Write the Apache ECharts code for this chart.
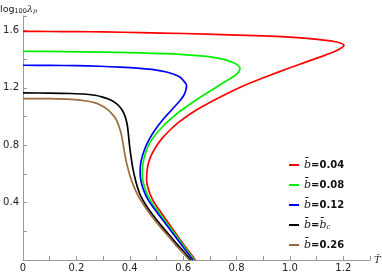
<!DOCTYPE html>
<html>
<head>
<meta charset="utf-8">
<script src="https://cdn.jsdelivr.net/npm/echarts@6/dist/echarts.min.js"></script>
<style>html,body{margin:0;padding:0;background:#fff}#c{width:382px;height:273px}</style>
</head>
<body>
<div id="c"></div>
<script>
// b-bar values shown in the legend
const bLabels = ['0.04', '0.08', '0.12', 'c', '0.26'];
const colors = ['#ff0000', '#00f000', '#0000ff', '#000000', '#9c6b3c'];

// red: b = 0.04
const redT = [0, 0.1, 0.2, 0.3, 0.44, 0.6, 0.775, 0.9, 1.0, 1.1125, 1.1751, 1.2025, 1.1894, 1.1612, 1.1200, 1.0562, 0.9925, 0.9250, 0.8575, 0.7900, 0.7300, 0.6738, 0.6251, 0.5838, 0.5501, 0.5219, 0.4994, 0.4826, 0.4713, 0.4649, 0.4631, 0.4706, 0.4863, 0.5107, 0.5369, 0.5632, 0.5894, 0.6176, 0.6457];
const redL = [1.593, 1.592, 1.591, 1.589, 1.584, 1.578, 1.569, 1.561, 1.553, 1.535, 1.519, 1.496, 1.473, 1.447, 1.419, 1.377, 1.334, 1.287, 1.238, 1.183, 1.127, 1.071, 1.016, 0.960, 0.904, 0.849, 0.793, 0.737, 0.682, 0.626, 0.557, 0.487, 0.417, 0.348, 0.278, 0.209, 0.139, 0.070, 0];
// green: b = 0.08
const greenT = [0, 0.15, 0.2876, 0.4376, 0.5876, 0.6877, 0.7338, 0.7657, 0.7938, 0.8088, 0.8125, 0.8099, 0.7957, 0.7657, 0.7252, 0.6757, 0.6374, 0.5932, 0.5624, 0.5276, 0.5002, 0.4788, 0.4627, 0.4518, 0.4469, 0.4488, 0.4593, 0.4769, 0.5024, 0.5298, 0.5576, 0.5857, 0.6138, 0.6412];
const greenL = [1.454, 1.452, 1.449, 1.443, 1.433, 1.419, 1.405, 1.391, 1.370, 1.350, 1.334, 1.315, 1.287, 1.252, 1.206, 1.148, 1.101, 1.043, 0.997, 0.939, 0.881, 0.828, 0.765, 0.696, 0.626, 0.557, 0.487, 0.417, 0.348, 0.278, 0.209, 0.139, 0.070, 0];
// blue: b = 0.12
const blueT = [0, 0.1, 0.2, 0.2876, 0.3625, 0.4376, 0.4938, 0.5377, 0.5650, 0.5876, 0.6000, 0.6127, 0.6100, 0.6026, 0.5894, 0.5726, 0.5557, 0.5388, 0.5219, 0.4938, 0.4713, 0.4544, 0.4432, 0.4387, 0.4413, 0.4518, 0.4694, 0.4957, 0.5238, 0.5519, 0.5801, 0.6082, 0.6363];
const blueL = [1.357, 1.356, 1.354, 1.350, 1.344, 1.335, 1.325, 1.310, 1.294, 1.275, 1.252, 1.217, 1.183, 1.148, 1.113, 1.078, 1.043, 1.009, 0.974, 0.904, 0.835, 0.765, 0.696, 0.626, 0.557, 0.487, 0.417, 0.348, 0.278, 0.209, 0.139, 0.070, 0];
// black: b = b_c
const blackT = [0, 0.1, 0.18, 0.2377, 0.27, 0.295, 0.3176, 0.3401, 0.3570, 0.3720, 0.3832, 0.3907, 0.3952, 0.3990, 0.4038, 0.4094, 0.4170, 0.4263, 0.4394, 0.4601, 0.4863, 0.5163, 0.5482, 0.5801, 0.5969, 0.6288];
const blackL = [1.164, 1.163, 1.160, 1.155, 1.148, 1.137, 1.123, 1.103, 1.078, 1.043, 0.997, 0.939, 0.870, 0.800, 0.730, 0.661, 0.591, 0.522, 0.452, 0.383, 0.313, 0.243, 0.174, 0.104, 0.070, 0];
// brown: b = 0.26
const brownT = [0, 0.1, 0.18, 0.2377, 0.262, 0.2801, 0.3127, 0.3345, 0.3502, 0.3607, 0.3690, 0.3757, 0.3821, 0.3900, 0.4001, 0.4132, 0.4301, 0.4526, 0.4788, 0.5088, 0.5407, 0.5726, 0.5894, 0.6232];
const brownL = [1.125, 1.124, 1.119, 1.108, 1.099, 1.089, 1.055, 1.016, 0.974, 0.925, 0.870, 0.800, 0.730, 0.661, 0.591, 0.522, 0.452, 0.383, 0.313, 0.243, 0.174, 0.104, 0.070, 0];

const seriesT = [redT, greenT, blueT, blackT, brownT];
const seriesL = [redL, greenL, blueL, blackL, brownL];

const names = bLabels.map(v => v === 'c' ? 'b̄=b̄c' : 'b̄=' + v);

const chart = echarts.init(document.getElementById('c'));
chart.setOption({
  animation: false,
  backgroundColor: '#fff',
  grid: { left: 23, right: 12, top: 16, bottom: 13, containLabel: false, outerBoundsMode: 'none' },
  legend: {
    orient: 'vertical',
    left: 284,
    top: 153,
    itemWidth: 10,
    itemHeight: 2,
    itemGap: 6,
    icon: 'rect',
    data: names,
    formatter: function (name) {
      const v = name.split('=')[1];
      if (v === 'b̄c') return '{i|b̄}{n|=}{i|b̄}{s|c}';
      return '{i|b̄}{n|=' + v + '}';
    },
    textStyle: {
      lineHeight: 14,
      rich: {
        i: { fontFamily: 'DejaVu Serif', fontStyle: 'italic', fontSize: 11, color: '#222', lineHeight: 14 },
        n: { fontFamily: 'DejaVu Sans', fontWeight: 'bold', fontSize: 10, color: '#111', lineHeight: 14 },
        s: { fontFamily: 'DejaVu Serif', fontStyle: 'italic', fontSize: 7, color: '#222', padding: [5, 0, 0, 0], lineHeight: 14 }
      }
    }
  },
  xAxis: {
    type: 'value', min: 0, max: 1.3, interval: 0.1,
    splitLine: { show: false },
    axisLine: { onZero: false, lineStyle: { color: '#999', width: 1 } },
    axisTick: { inside: true, length: 4, lineStyle: { color: '#999' } },
    axisLabel: {
      margin: 3, fontFamily: 'DejaVu Sans', fontSize: 10, color: '#222',
      formatter: function (v) {
        const k = Math.round(v * 10);
        if (k % 2) return '';
        return k === 0 ? '0' : (k / 10).toFixed(1);
      }
    },
    name: 'T̄',
    nameGap: 4,
    nameTextStyle: { fontFamily: 'DejaVu Serif', fontStyle: 'italic', fontSize: 10, color: '#222', padding: [0, 0, 3, 0] }
  },
  yAxis: {
    type: 'value', min: 0, max: 1.7, interval: 0.2,
    splitLine: { show: false },
    axisLine: { onZero: false, lineStyle: { color: '#999', width: 1 } },
    axisTick: { inside: true, length: 4, lineStyle: { color: '#999' } },
    axisLabel: {
      margin: 4, fontFamily: 'DejaVu Sans', fontSize: 10, color: '#222',
      formatter: function (v) {
        const k = Math.round(v * 10);
        if (k === 0 || k % 4) return '';
        return (k / 10).toFixed(1);
      }
    },
    name: '{a|log}{s|100}{l|λ}{p|p}',
    nameGap: 1,
    nameTextStyle: {
      align: 'left',
      padding: [0, 0, 0, -23],
      rich: {
        a: { fontFamily: 'DejaVu Sans', fontSize: 9.5, color: '#222' },
        s: { fontFamily: 'DejaVu Sans', fontSize: 6.5, color: '#222', padding: [4, 0, 0, 0] },
        l: { fontFamily: 'DejaVu Serif', fontStyle: 'italic', fontSize: 9.5, color: '#222' },
        p: { fontFamily: 'DejaVu Serif', fontStyle: 'italic', fontSize: 6.5, color: '#222', padding: [4, 0, 0, 0] }
      }
    }
  },
  series: names.map((n, i) => ({
    name: n,
    type: 'line',
    smooth: 0.3,
    showSymbol: false,
    symbol: 'none',
    clip: true,
    color: colors[i],
    lineStyle: { width: 1.7, color: colors[i] },
    data: seriesT[i].map((t, j) => [t, seriesL[i][j]])
  }))
});
</script>
</body>
</html>
